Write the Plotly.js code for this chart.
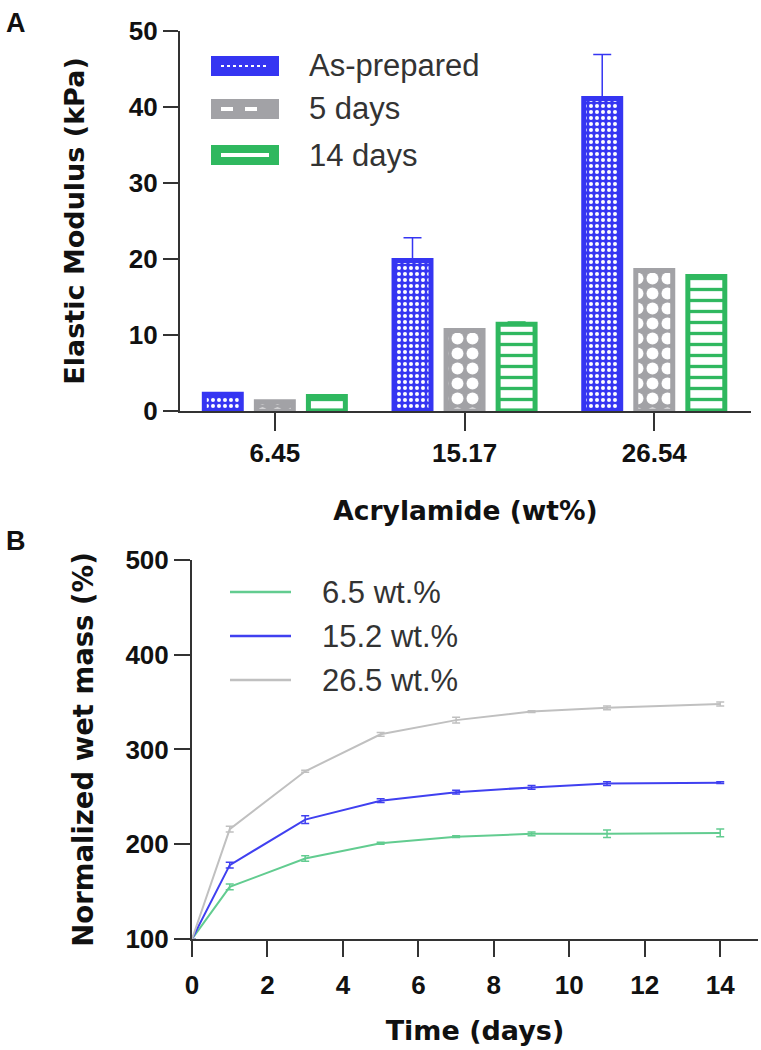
<!DOCTYPE html>
<html><head><meta charset="utf-8">
<script src="https://cdn.plot.ly/plotly-3.0.1.min.js"></script>
<style>html,body{margin:0;padding:0;background:#fff}#chart{width:761px;height:1050px}</style>
</head><body><div id="chart"></div>
<script>
// ---- Panel A data (Elastic modulus, kPa) ----
const groups = ['6.45', '15.17', '26.54'];
const barNames = ['As-prepared', '5 days', '14 days'];
const asPrepared = [2.2, 19.8, 41.1];
const asPreparedErr = [0.2, 3.0, 5.8];
const days5 = [1.2, 10.6, 18.5];
const days5Err = [0.1, 0.2, 0.1];
const days14 = [1.9, 11.4, 17.7];
const days14Err = [0.1, 0.3, 0.1];

// ---- Panel B data (Normalized wet mass, %) ----
const timeDays = [0, 1, 3, 5, 7, 9, 11, 14];
const lineNames = ['6.5 wt.%', '15.2 wt.%', '26.5 wt.%'];
const mass65 = [100, 155, 185, 201, 208, 211, 211, 212];
const mass65Err = [0, 3, 3, 1, 1, 2, 4, 4];
const mass152 = [100, 178, 226, 246, 255, 260, 264, 265];
const mass152Err = [0, 3, 4, 2, 2, 2, 2, 1];
const mass265 = [100, 216, 277, 316, 331, 340, 344, 348];
const mass265Err = [0, 3, 1, 2, 3, 1, 2, 2];

const W = 761, H = 1050;
const BLUE = '#3535f2', GRAY = '#a2a2a6', GREEN = '#2fb85f';
const LBLUE = '#4040f0', LGRAY = '#c0c0c0', LGREEN = '#62cc90';
const barColors = [BLUE, GRAY, GREEN];
const lineColors = [LGREEN, LBLUE, LGRAY];

function bar(name, y, err, color, pattern) {
  return {
    type: 'bar', name: name, x: groups, y: y, xaxis: 'x', yaxis: 'y', showlegend: false,
    marker: { color: pattern.bgcolor, line: { color: color, width: 5 }, pattern: pattern },
    error_y: { type: 'data', symmetric: false, array: err, arrayminus: err.map(() => 0),
               color: color, thickness: 1.5, width: 9 }
  };
}
function line(name, y, err, color) {
  return {
    type: 'scatter', mode: 'lines', name: name, x: timeDays, y: y, xaxis: 'x2', yaxis: 'y2',
    showlegend: false, line: { color: color, width: 2 },
    error_y: { type: 'data', array: err, color: color, thickness: 1.5, width: 4 }
  };
}

const data = [
  bar(barNames[0], asPrepared, asPreparedErr, BLUE,
      { shape: '.', fgcolor: '#ffffff', bgcolor: BLUE, size: 6, solidity: 0.35, fillmode: 'replace' }),
  bar(barNames[1], days5, days5Err, GRAY,
      { shape: '.', fgcolor: '#ffffff', bgcolor: GRAY, size: 15, solidity: 0.5, fillmode: 'replace' }),
  bar(barNames[2], days14, days14Err, GREEN,
      { shape: '-', fgcolor: GREEN, bgcolor: '#ffffff', size: 11, solidity: 0.3, fillmode: 'replace' }),
  line(lineNames[0], mass65, mass65Err, lineColors[0]),
  line(lineNames[1], mass152, mass152Err, lineColors[1]),
  line(lineNames[2], mass265, mass265Err, lineColors[2])
];

const SANS = 'Liberation Sans, Arial, sans-serif';
const WIDE = 'DejaVu Sans, Verdana, sans-serif';
const tickFont = { family: SANS, size: 26, color: '#111', weight: 'bold' };
const axBase = {
  showline: true, linecolor: '#333', linewidth: 2, ticks: 'outside', tickcolor: '#333',
  tickwidth: 2, showgrid: false, zeroline: false, tickfont: tickFont, fixedrange: true
};

// --- hand-drawn legends (swatches + real text) ---
const px = x => x / W, py = y => 1 - y / H;
const shapes = [], annotations = [];
const legA = { x0: 211, x1: 279, ys: [66, 109, 155], h: 20, textX: 307 };
const innerDash = ['dot', 'dash', 'solid'];
barNames.forEach((n, i) => {
  const yc = legA.ys[i];
  shapes.push({ type: 'rect', xref: 'paper', yref: 'paper', x0: px(legA.x0), x1: px(legA.x1),
    y0: py(yc + legA.h / 2), y1: py(yc - legA.h / 2), fillcolor: barColors[i], line: { width: 0 } });
  shapes.push({ type: 'line', xref: 'paper', yref: 'paper', x0: px(legA.x0 + 10), x1: px(legA.x1 - 10),
    y0: py(yc), y1: py(yc), line: { color: '#ffffff', width: i === 0 ? 2 : 4, dash: innerDash[i] } });
  annotations.push({ text: n, xref: 'paper', yref: 'paper', x: px(legA.textX), y: py(yc),
    xanchor: 'left', yanchor: 'middle', showarrow: false,
    font: { family: SANS, size: 31, color: '#333' } });
});
const legB = { x0: 230, x1: 291, ys: [592, 636, 680], textX: 320 };
lineNames.forEach((n, i) => {
  const yc = legB.ys[i];
  shapes.push({ type: 'line', xref: 'paper', yref: 'paper', x0: px(legB.x0), x1: px(legB.x1),
    y0: py(yc), y1: py(yc), line: { color: lineColors[i], width: 2.5 } });
  annotations.push({ text: n, xref: 'paper', yref: 'paper', x: px(legB.textX), y: py(yc),
    xanchor: 'left', yanchor: 'middle', showarrow: false,
    font: { family: SANS, size: 31, color: '#333' } });
});
annotations.push({ text: '<b>A</b>', xref: 'paper', yref: 'paper', x: px(4), y: py(6),
  xanchor: 'left', yanchor: 'top', showarrow: false, font: { family: SANS, size: 27, color: '#111' } });
annotations.push({ text: '<b>B</b>', xref: 'paper', yref: 'paper', x: px(4), y: py(524),
  xanchor: 'left', yanchor: 'top', showarrow: false, font: { family: SANS, size: 27, color: '#111' } });

const layout = {
  width: W, height: H, margin: { l: 0, r: 0, t: 0, b: 0 },
  paper_bgcolor: '#fff', plot_bgcolor: '#fff',
  barmode: 'group', bargap: 0.177, bargroupgap: 0.29,
  font: { family: SANS, color: '#111' },
  showlegend: false,
  xaxis: Object.assign({}, axBase, {
    domain: [0.2365, 0.9869], anchor: 'y', type: 'category', range: [-0.5, 2.51],
    ticklen: 18,
    title: { text: 'Acrylamide (wt%)', standoff: 34,
             font: { family: WIDE, size: 26.5, color: '#111', weight: 'bold' } }
  }),
  yaxis: Object.assign({}, axBase, {
    domain: [0.6086, 0.9705], anchor: 'x', range: [0, 50], dtick: 10, ticklen: 15,
    title: { text: 'Elastic Modulus (kPa)', standoff: 36,
             font: { family: WIDE, size: 27, color: '#111', weight: 'bold' } }
  }),
  xaxis2: Object.assign({}, axBase, {
    domain: [0.2523, 0.996], anchor: 'y2', range: [0, 15], dtick: 2, tick0: 0, ticklen: 16,
    ticklabelstandoff: 6,
    title: { text: 'Time (days)', standoff: 22,
             font: { family: WIDE, size: 27, color: '#111', weight: 'bold' } }
  }),
  yaxis2: Object.assign({}, axBase, {
    domain: [0.1057, 0.4667], anchor: 'x2', range: [100, 500], dtick: 100, ticklen: 16,
    title: { text: 'Normalized wet mass (%)', standoff: 24,
             font: { family: WIDE, size: 27.5, color: '#111', weight: 'bold' } }
  }),
  shapes: shapes,
  annotations: annotations
};

Plotly.newPlot('chart', data, layout, { staticPlot: true, displayModeBar: false });
</script>
</body></html>
